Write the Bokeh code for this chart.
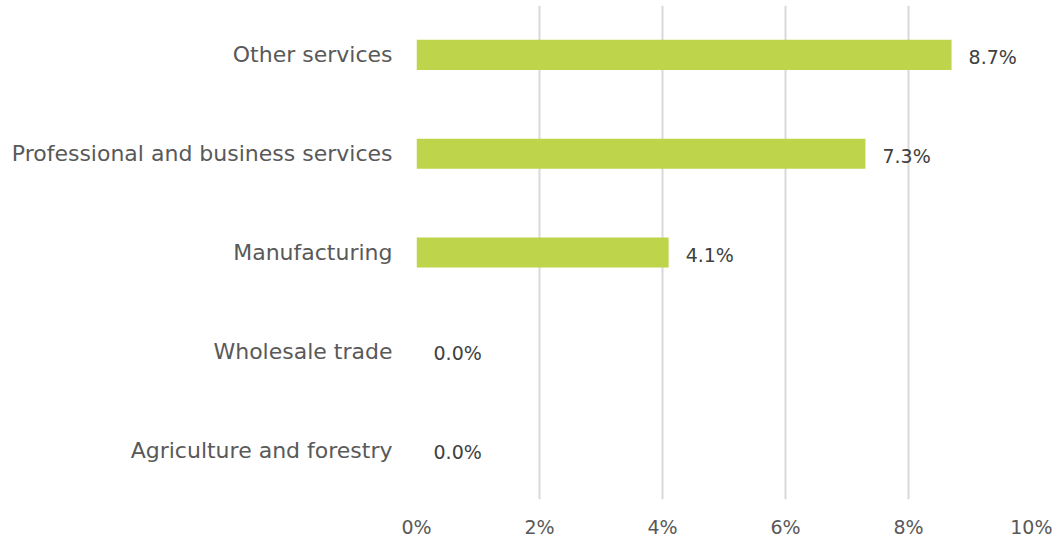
from bokeh.plotting import figure
from bokeh.models import ColumnDataSource, FactorRange, Range1d, FixedTicker, CustomJSTickFormatter
from bokeh.core.properties import value
from bokeh.embed import file_html
from bokeh.resources import INLINE

categories = ["Agriculture and forestry", "Wholesale trade", "Manufacturing",
              "Professional and business services", "Other services"]
values = [0.0, 0.0, 4.1, 7.3, 8.7]
labels = ["0.0%", "0.0%", "4.1%", "7.3%", "8.7%"]
x_ticks = [0, 2, 4, 6, 8, 10]

FONT = "DejaVu Sans"

src = ColumnDataSource(dict(cat=categories, val=values, lab=labels))

p = figure(width=1052, height=540, y_range=FactorRange(*categories, range_padding=0),
           x_range=Range1d(0, 10), output_backend="svg", toolbar_location=None,
           min_border_left=416, min_border_right=21, min_border_top=5, min_border_bottom=30)
p.outline_line_color = None
p.background_fill_color = "white"
p.border_fill_color = "white"

p.hbar(y="cat", right="val", left=0, height=0.305, source=src, fill_color="#BED44B", line_color=None)
p.text(x="val", y="cat", text="lab", source=src, x_offset=17, y_offset=2,
       text_baseline="middle", text_align="left", text_font=value(FONT),
       text_font_size="19px", text_color="#404040")

p.xgrid.ticker = FixedTicker(ticks=x_ticks)
p.xgrid.grid_line_color = "#D9D9D9"
p.xgrid.grid_line_width = 2
p.ygrid.grid_line_color = None

p.xaxis.ticker = FixedTicker(ticks=x_ticks)
p.xaxis.formatter = CustomJSTickFormatter(code="return tick + '%';")
p.xaxis.axis_line_color = None
p.xaxis.major_tick_line_color = None
p.xaxis.minor_tick_line_color = None
p.xaxis.major_label_standoff = 10
p.xaxis.major_label_text_font = FONT
p.xaxis.major_label_text_font_size = "19px"
p.xaxis.major_label_text_color = "#595959"

p.yaxis.axis_line_color = None
p.yaxis.major_tick_line_color = None
p.yaxis.minor_tick_line_color = None
p.yaxis.major_label_standoff = 18
p.yaxis.major_label_text_font = FONT
p.yaxis.major_label_text_font_size = "22px"
p.yaxis.major_label_text_color = "#595959"

open("out.html", "w").write(file_html(p, INLINE))
